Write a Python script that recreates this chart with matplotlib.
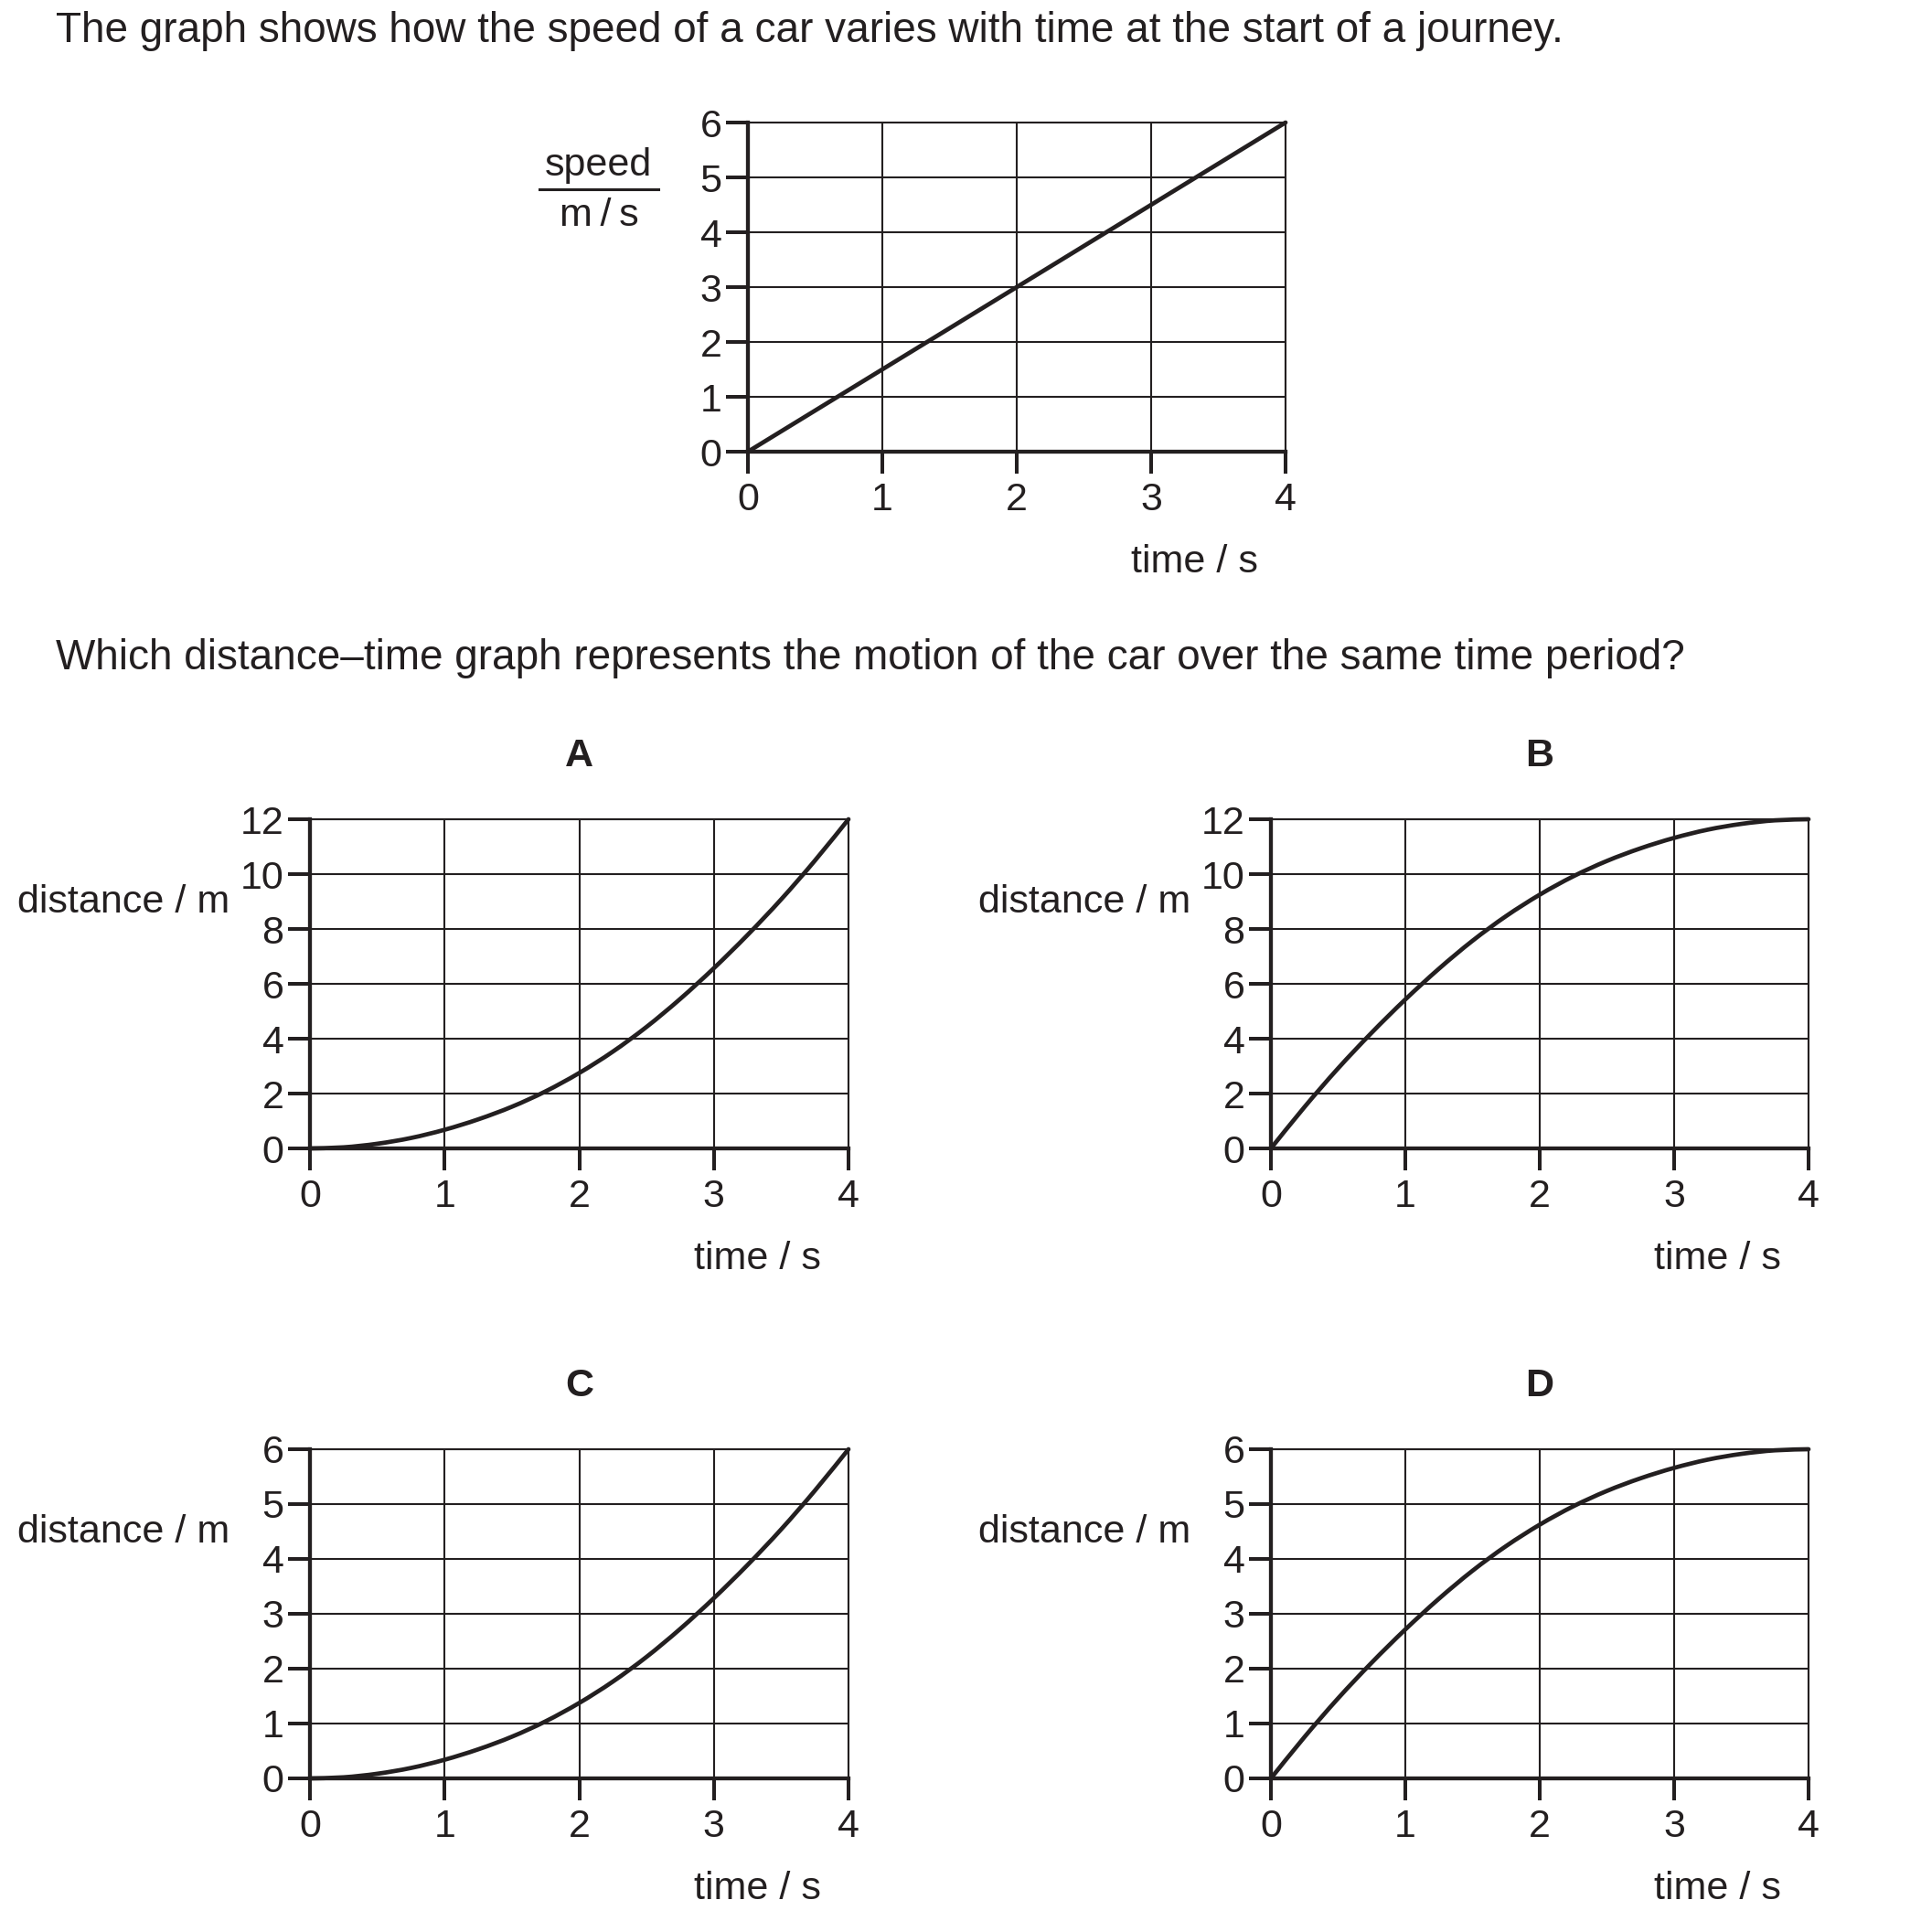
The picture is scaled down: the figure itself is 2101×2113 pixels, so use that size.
import matplotlib
matplotlib.use("Agg")
import matplotlib.pyplot as plt
from matplotlib.lines import Line2D
from matplotlib.path import Path
from matplotlib.patches import PathPatch

# ---------------- data ----------------
speed_time = [0, 4]
speed_values = [0, 6]
speed_yticks = [0, 1, 2, 3, 4, 5, 6]
time_ticks = [0, 1, 2, 3, 4]

dist_time = [0, 0.25, 0.5, 0.75, 1.0, 1.25, 1.5, 1.75, 2.0, 2.25, 2.5, 2.75, 3.0, 3.25, 3.5, 3.75, 4.0]
dist_A = [0, 0.04, 0.17, 0.38, 0.68, 1.06, 1.52, 2.08, 2.75, 3.53, 4.43, 5.45, 6.57, 7.78, 9.08, 10.49, 12.0]
dist_B = [0, 1.51, 2.92, 4.22, 5.43, 6.55, 7.57, 8.47, 9.25, 9.92, 10.48, 10.94, 11.32, 11.62, 11.83, 11.96, 12.0]
dist_C = [0, 0.02, 0.085, 0.19, 0.34, 0.53, 0.76, 1.04, 1.375, 1.765, 2.215, 2.725, 3.285, 3.89, 4.54, 5.245, 6.0]
dist_D = [0, 0.755, 1.46, 2.11, 2.715, 3.275, 3.785, 4.235, 4.625, 4.96, 5.24, 5.47, 5.66, 5.81, 5.915, 5.98, 6.0]
yticks_12 = [0, 2, 4, 6, 8, 10, 12]
yticks_6 = [0, 1, 2, 3, 4, 5, 6]
panel_letters = ["A", "B", "C", "D"]

title_1 = "The graph shows how the speed of a car varies with time at the start of a journey."
title_2 = "Which distance\u2013time graph represents the motion of the car over the same time period?"
xlabel_text = "time / s"
ylabel_text = "distance / m"

# ---------------- style ----------------
W, H = 2101, 2113
INK = "#231f20"
FS = 31
FS_TEXT = 33
plt.rcParams["font.family"] = ["Liberation Sans", "DejaVu Sans"]

fig = plt.figure(figsize=(W / 100, H / 100), dpi=100)
fig.patch.set_facecolor("white")


def fx(x):
    return x / W


def fy(y):
    return 1 - y / H


def smooth_path(xs, ys):
    """Catmull-Rom curve through the data points, drawn as cubic Bezier segments."""
    pts = list(zip(xs, ys))
    n = len(pts)
    verts = [pts[0]]
    codes = [Path.MOVETO]
    for i in range(n - 1):
        p0 = pts[i - 1] if i > 0 else pts[i]
        p1 = pts[i]
        p2 = pts[i + 1]
        p3 = pts[i + 2] if i + 2 < n else pts[i + 1]
        c1 = (p1[0] + (p2[0] - p0[0]) / 6, p1[1] + (p2[1] - p0[1]) / 6)
        c2 = (p2[0] - (p3[0] - p1[0]) / 6, p2[1] - (p3[1] - p1[1]) / 6)
        verts += [c1, c2, p2]
        codes += [Path.CURVE4] * 3
    return Path(verts, codes)


def make_axes(x0, y0, x1, y1, xs, ys, yt):
    ax = fig.add_axes([fx(x0), fy(y1), fx(x1 - x0), (y1 - y0) / H])
    ax.set_xlim(0, 4)
    ax.set_ylim(0, max(yt))
    ax.set_xticks(time_ticks)
    ax.set_yticks(yt)
    ax.set_xticklabels([str(v) for v in time_ticks])
    ax.set_yticklabels([str(v) for v in yt])
    ax.grid(True, color=INK, linewidth=1.5)
    ax.set_axisbelow(True)
    for s in ["left", "bottom"]:
        ax.spines[s].set_linewidth(3.1)
        ax.spines[s].set_color(INK)
        ax.spines[s].set_zorder(3)
    for s in ["top", "right"]:
        ax.spines[s].set_linewidth(1.5)
        ax.spines[s].set_color(INK)
    ax.tick_params(axis="both", direction="out", length=17, width=2.9, color=INK,
                   labelsize=FS, labelcolor=INK)
    ax.tick_params(axis="x", pad=7)
    ax.tick_params(axis="y", pad=3.5)
    if len(xs) > 2:
        patch = PathPatch(smooth_path(xs, ys), fill=False, edgecolor=INK, linewidth=3.4,
                          capstyle="round", joinstyle="round", transform=ax.transData,
                          clip_on=False, zorder=4)
        ax.add_patch(patch)
    else:
        ax.plot(xs, ys, color=INK, linewidth=3.4, solid_capstyle="round",
                clip_on=False, zorder=4)
    return ax


# top speed-time graph
make_axes(818, 134, 1406, 494, speed_time, speed_values, speed_yticks)
fig.text(fx(654), fy(192), "speed", fontsize=FS, color=INK, ha="center", va="baseline")
fig.add_artist(Line2D([fx(590), fx(720)], [fy(207), fy(207)], color=INK, linewidth=2.2,
                      transform=fig.transFigure))
fig.text(fx(655), fy(247), "m\u2009/\u2009s", fontsize=FS, color=INK, ha="center", va="baseline")
fig.text(fx(1306), fy(626), xlabel_text, fontsize=FS, color=INK, ha="center", va="baseline")

# question text
fig.text(fx(61), fy(46), title_1, fontsize=FS_TEXT, color=INK, ha="left", va="baseline")
fig.text(fx(61), fy(732), title_2, fontsize=FS_TEXT, color=INK, ha="left", va="baseline")

# four distance-time graphs
panels = [
    (339, 896, 928, 1256, dist_A, yticks_12),
    (1390, 896, 1978, 1256, dist_B, yticks_12),
    (339, 1585, 928, 1945, dist_C, yticks_6),
    (1390, 1585, 1978, 1945, dist_D, yticks_6),
]
for letter, (x0, y0, x1, y1, ys, yt) in zip(panel_letters, panels):
    make_axes(x0, y0, x1, y1, dist_time, ys, yt)
    fig.text(fx((x0 + x1) / 2), fy(y0 - 58), letter, fontsize=FS, fontweight="bold",
             color=INK, ha="center", va="baseline")
    fig.text(fx(x0 - 88), fy(y0 + 91), ylabel_text, fontsize=FS, color=INK,
             ha="right", va="center")
    fig.text(fx(x1 - 100), fy(y1 + 132), xlabel_text, fontsize=FS, color=INK,
             ha="center", va="baseline")

fig.savefig("out.png", dpi=100, facecolor="white")
